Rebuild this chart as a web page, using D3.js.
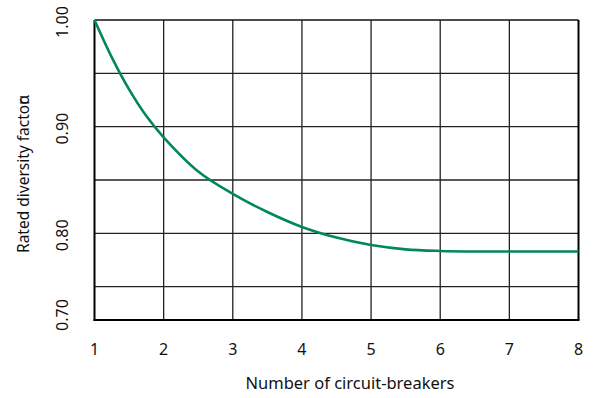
<!DOCTYPE html>
<html><head><meta charset="utf-8">
<script src="https://cdn.jsdelivr.net/npm/d3@7"></script>
<style>body{margin:0;background:#fff}svg{display:block}text{font-family:"Noto Sans",sans-serif;fill:#111}</style>
</head><body><svg id="c" width="598" height="398"></svg>
<script>
const breakers = [1, 1.25, 1.5, 1.75, 2, 2.5, 3, 3.5, 4, 4.5, 5, 5.5, 6, 6.5, 7, 7.5, 8];
const diversity = [1.000, 0.965, 0.935, 0.910, 0.890, 0.858, 0.837, 0.820, 0.806, 0.796, 0.789, 0.785, 0.7835, 0.783, 0.783, 0.783, 0.783];
const xTicks = [1, 2, 3, 4, 5, 6, 7, 8];
const yTickValues = [1.00, 0.90, 0.80, 0.70];
const yTickLabels = ["1.00", "0.90", "0.80", "0.70"];
const yGrid = [0.75, 0.80, 0.85, 0.90, 0.95];
const xTitle = "Number of circuit-breakers";
const yTitle = "Rated diversity factor";

const svg = d3.select("#c");
const L = 94.5, R = 578.5, T = 20, B = 320;
const x = d3.scaleLinear().domain([1, 8]).range([L, R]);
const y = d3.scaleLinear().domain([0.71875, 1.0]).range([B, T]).clamp(true);

const g = svg.append("g");
g.selectAll("line.vx").data(xTicks.slice(1, -1)).join("line")
  .attr("x1", d => x(d)).attr("x2", d => x(d)).attr("y1", T).attr("y2", B)
  .attr("stroke", "#222").attr("stroke-width", 1.3);
g.selectAll("line.hy").data(yGrid).join("line")
  .attr("y1", d => y(d)).attr("y2", d => y(d)).attr("x1", L).attr("x2", R)
  .attr("stroke", "#222").attr("stroke-width", 1.3);
g.append("line").attr("x1", L).attr("x2", R).attr("y1", T).attr("y2", T).attr("stroke", "#111").attr("stroke-width", 1.6);
g.append("line").attr("x1", R).attr("x2", R).attr("y1", T).attr("y2", B).attr("stroke", "#000").attr("stroke-width", 2);
g.append("line").attr("x1", L).attr("x2", L).attr("y1", T).attr("y2", B + 1).attr("stroke", "#000").attr("stroke-width", 2);
g.append("line").attr("x1", L - 1).attr("x2", R + 1).attr("y1", B).attr("y2", B).attr("stroke", "#000").attr("stroke-width", 2);

const pts = breakers.map((b, i) => [b, diversity[i]]);
svg.append("path").datum(pts)
  .attr("d", d3.line().x(d => x(d[0])).y(d => y(d[1])).curve(d3.curveCatmullRom.alpha(0.5)))
  .attr("fill", "none").attr("stroke", "#00885a").attr("stroke-width", 2.6);

svg.selectAll("text.xt").data(xTicks).join("text")
  .attr("x", d => x(d)).attr("y", 355).attr("text-anchor", "middle")
  .attr("font-size", 16).text(d => d);
svg.selectAll("text.yt").data(yTickValues).join("text")
  .attr("transform", (d, i) => `translate(68,${i === 3 ? y(d) - 5 : y(d) + 2}) rotate(-90)`)
  .attr("text-anchor", "middle").attr("font-size", 16)
  .text((d, i) => yTickLabels[i]);
svg.append("text").attr("x", 350).attr("y", 389).attr("text-anchor", "middle")
  .attr("font-size", 16.5).text(xTitle);
const yt = svg.append("text").attr("transform", "translate(29,253) rotate(-90)")
  .attr("text-anchor", "start").attr("font-size", 15.5);
yt.append("tspan").text(yTitle);
yt.append("tspan").attr("dx", -6).text("α");
</script></body></html>
